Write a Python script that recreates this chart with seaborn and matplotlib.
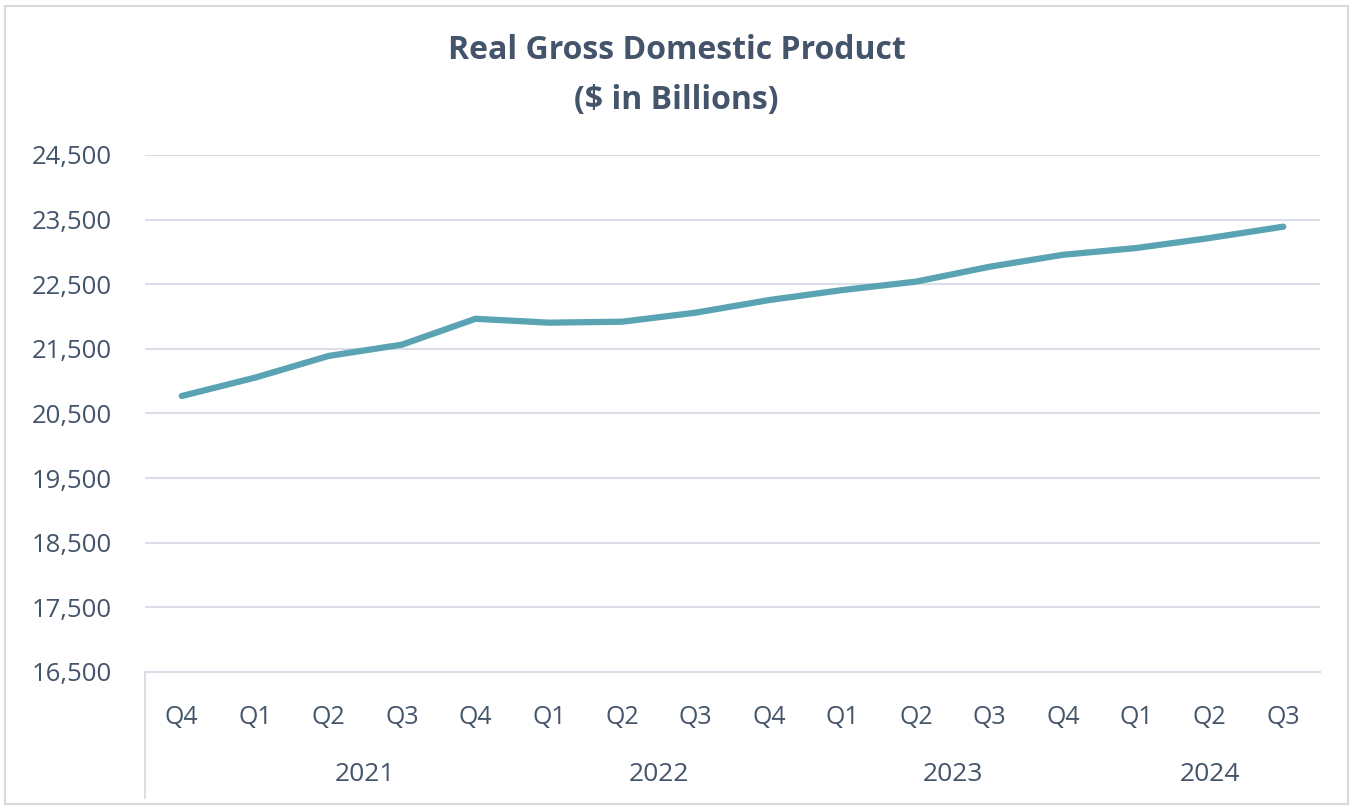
import pandas as pd
import matplotlib.pyplot as plt
import seaborn as sns
from matplotlib.patches import Rectangle

quarters = ["Q4", "Q1", "Q2", "Q3", "Q4", "Q1", "Q2", "Q3",
            "Q4", "Q1", "Q2", "Q3", "Q4", "Q1", "Q2", "Q3"]
years = [2020, 2021, 2021, 2021, 2021, 2022, 2022, 2022,
         2022, 2023, 2023, 2023, 2023, 2024, 2024, 2024]
gdp = [20770, 21055, 21390, 21565, 21965, 21905, 21920, 22060,
       22255, 22410, 22540, 22770, 22955, 23060, 23215, 23390]
year_labels = [2021, 2022, 2023, 2024]

df = pd.DataFrame({"quarter": quarters, "year": years, "gdp": gdp})
df["pos"] = range(len(df))

text_color = "#44546A"
line_color = "#5AA3B3"
grid_color = "#D9DEE8"

sns.set_style("white")
plt.rcParams["font.family"] = ["Open Sans", "DejaVu Sans"]

fig = plt.figure(figsize=(13.53, 8.07), dpi=100)
ax = fig.add_axes([0.1072, 0.1673, 0.8684, 0.6407])

sns.lineplot(data=df, x="pos", y="gdp", ax=ax, color=line_color,
             linewidth=4.5, solid_capstyle="round", solid_joinstyle="round")

ax.set_xlim(-0.5, len(df) - 0.5)
ax.set_ylim(16500, 24500)
ax.set_yticks(range(16500, 24501, 1000))
ax.set_yticklabels([f"{v:,}" for v in range(16500, 24501, 1000)],
                   fontsize=18.5, color=text_color)
ax.set_xticks(df["pos"])
ax.set_xticklabels(df["quarter"], fontsize=18, color=text_color)
ax.tick_params(axis="x", length=0, pad=24)
ax.tick_params(axis="y", length=0, pad=24)
ax.yaxis.grid(True, color=grid_color, linewidth=1.5)
ax.set_axisbelow(True)
for s in ["top", "right", "left"]:
    ax.spines[s].set_visible(False)
ax.spines["bottom"].set_color(grid_color)
ax.spines["bottom"].set_linewidth(1.5)
ax.set_xlabel("")
ax.set_ylabel("")

# year group labels under the quarters
for yr in year_labels:
    p = df.loc[df["year"] == yr, "pos"]
    ax.text(p.mean(), -0.199, str(yr), transform=ax.get_xaxis_transform(),
            ha="center", va="center", fontsize=19, color=text_color)

# left separator of the multi-level axis
ax.plot([-0.5, -0.5], [0, -0.243], transform=ax.get_xaxis_transform(),
        color=grid_color, linewidth=1.5, clip_on=False)

fig.text(0.5, 0.938, "Real Gross Domestic Product", ha="center", va="center",
         fontsize=23, fontweight="bold", color=text_color)
fig.text(0.5, 0.876, "($ in Billions)", ha="center", va="center",
         fontsize=23, fontweight="bold", color=text_color)

fig.patches.append(Rectangle((0.004, 0.004), 0.992, 0.988, transform=fig.transFigure,
                             fill=False, edgecolor="#D9D9D9", linewidth=1.5))

fig.savefig("out.png", dpi=100)
